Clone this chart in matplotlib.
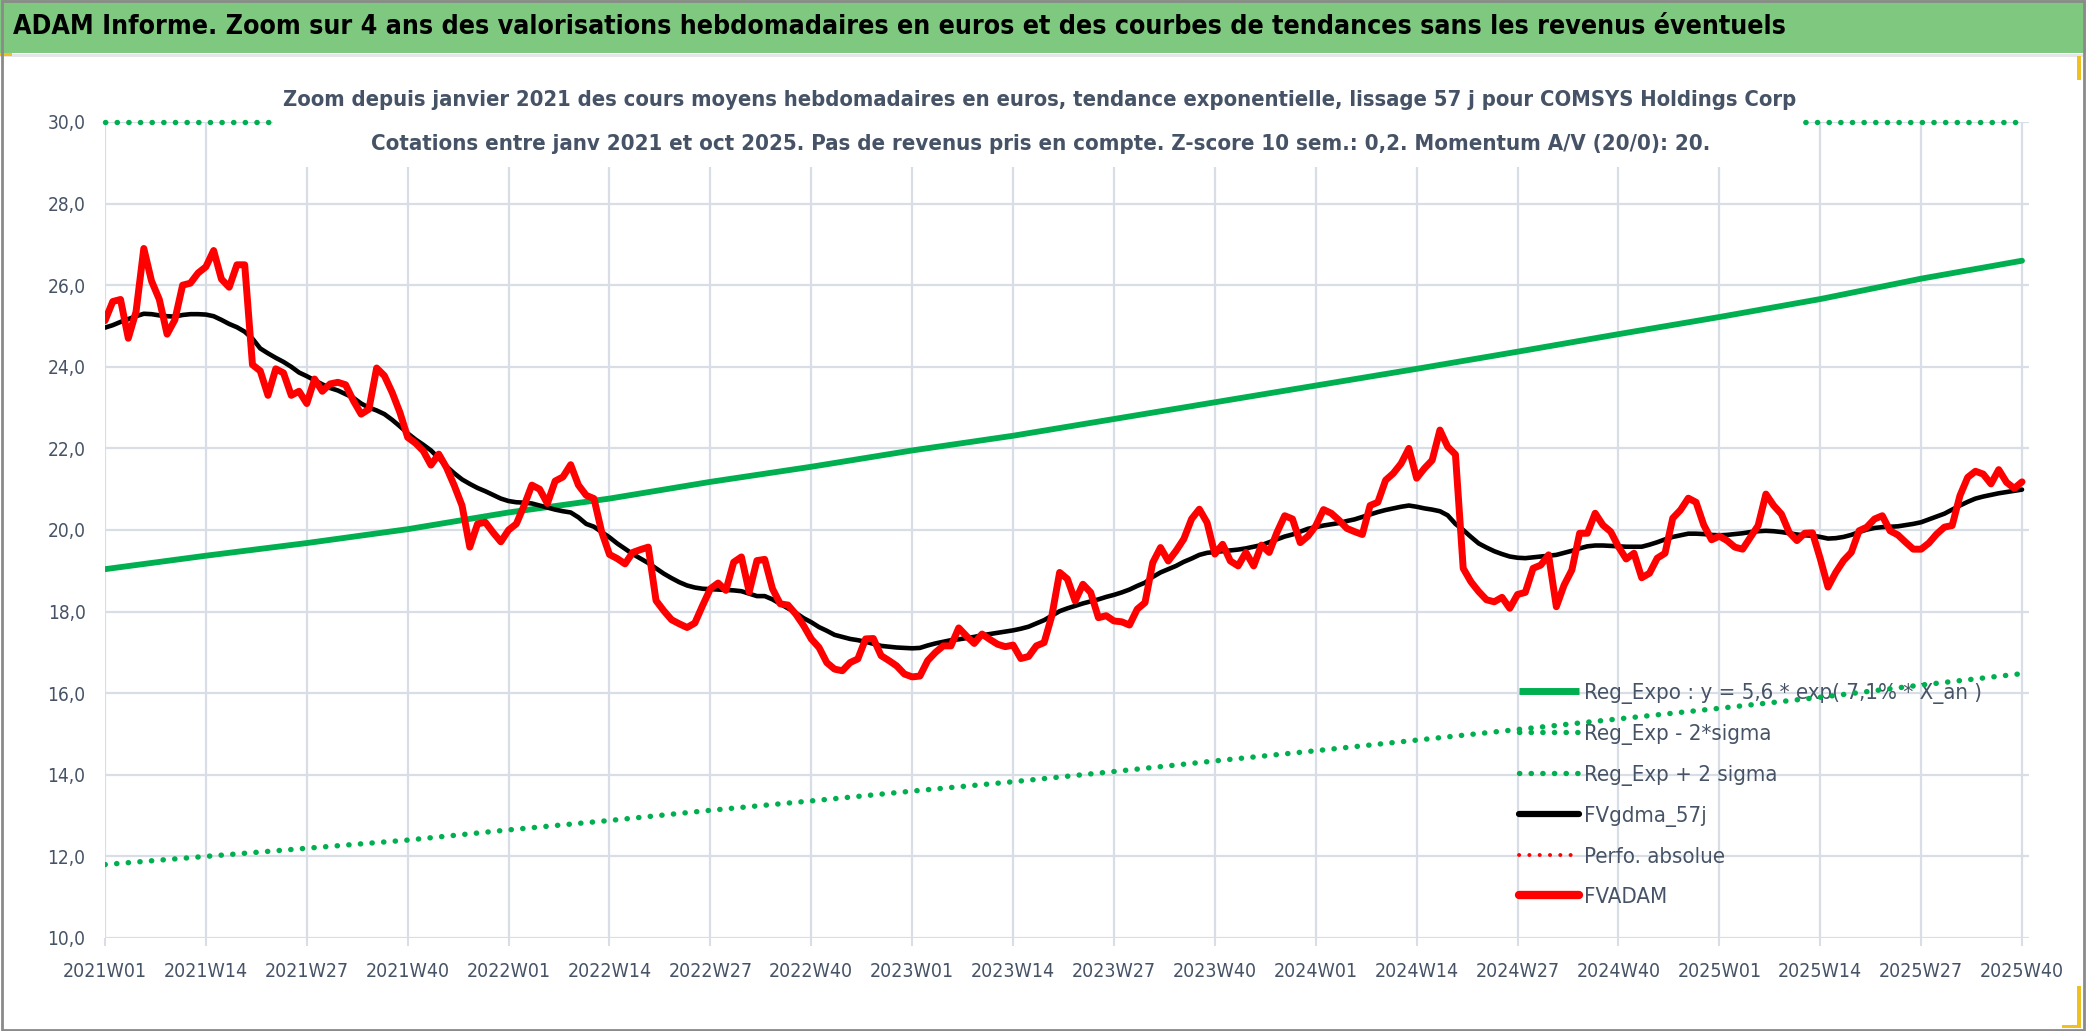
import matplotlib
matplotlib.use('Agg')
import matplotlib.pyplot as plt
from matplotlib.patches import Rectangle
from matplotlib.lines import Line2D
from matplotlib import font_manager

# choose the narrowest available family (reference uses a condensed Calibri-like face)
_fl = font_manager.fontManager.ttflist
_names = {f.name for f in _fl}
STRETCH = 'normal'
if 'Liberation Sans Narrow' in _names:
    FONT = ['Liberation Sans Narrow', 'DejaVu Sans']
elif 'DejaVu Sans Condensed' in _names:
    FONT = ['DejaVu Sans Condensed', 'DejaVu Sans']
elif any(f.name == 'DejaVu Sans' and str(f.stretch) in ('condensed', '87.5', 'semi-condensed')
         for f in _fl):
    FONT = ['DejaVu Sans']
    STRETCH = 'condensed'
else:
    FONT = ['Liberation Sans', 'DejaVu Sans']
plt.rcParams['font.family'] = FONT
plt.rcParams['font.stretch'] = STRETCH

# ---------------- data ----------------
weeks = []
for yr in range(2021, 2026):
    last = 40 if yr == 2025 else 52
    for w in range(1, last + 1):
        weeks.append(f"{yr}W{w:02d}")

tick_labels = weeks[::13]

fvadam = [
    25.13, 25.6, 25.65, 24.7, 25.35, 26.9, 26.1, 25.65, 24.8, 25.15,
    26.0, 26.05, 26.3, 26.45, 26.85, 26.15, 25.95, 26.5, 26.5, 24.05,
    23.9, 23.3, 23.95, 23.85, 23.3, 23.4, 23.1, 23.7, 23.4, 23.58,
    23.62, 23.56, 23.17, 22.84, 22.96, 23.97, 23.78, 23.37, 22.88, 22.27,
    22.13, 21.94, 21.59, 21.86, 21.53, 21.09, 20.6, 19.58, 20.15, 20.19,
    19.94, 19.71, 20.0, 20.15, 20.6, 21.1, 21.0, 20.65, 21.2, 21.3,
    21.6, 21.1, 20.85, 20.77, 19.95, 19.4, 19.3, 19.17, 19.45, 19.52,
    19.58, 18.27, 18.02, 17.8, 17.7, 17.61, 17.72, 18.15, 18.56, 18.7,
    18.52, 19.21, 19.34, 18.48, 19.25, 19.28, 18.56, 18.19, 18.16, 17.94,
    17.66, 17.33, 17.12, 16.75, 16.59, 16.55, 16.75, 16.84, 17.33, 17.34,
    16.92, 16.8, 16.67, 16.47, 16.4, 16.42, 16.8, 17.0, 17.16, 17.16,
    17.6, 17.4, 17.22, 17.45, 17.32, 17.2, 17.14, 17.18, 16.85, 16.9,
    17.16, 17.24, 17.9, 18.96, 18.8, 18.26, 18.67, 18.47, 17.85, 17.9,
    17.77, 17.75, 17.67, 18.06, 18.22, 19.2, 19.57, 19.24, 19.49, 19.78,
    20.27, 20.51, 20.18, 19.41, 19.65, 19.24, 19.12, 19.45, 19.12, 19.63,
    19.45, 19.94, 20.35, 20.27, 19.69, 19.85, 20.1, 20.5, 20.41, 20.24,
    20.04, 19.96, 19.89, 20.6, 20.68, 21.22, 21.39, 21.63, 22.0, 21.27,
    21.51, 21.71, 22.45, 22.04, 21.85, 19.06, 18.73, 18.49, 18.29, 18.24,
    18.35, 18.08, 18.42, 18.47, 19.06, 19.14, 19.39, 18.12, 18.65, 19.02,
    19.92, 19.92, 20.41, 20.12, 19.96, 19.59, 19.29, 19.43, 18.83, 18.94,
    19.31, 19.43, 20.29, 20.49, 20.78, 20.68, 20.12, 19.76, 19.85, 19.74,
    19.58, 19.53, 19.82, 20.11, 20.88, 20.6, 20.39, 19.94, 19.74, 19.92,
    19.93, 19.3, 18.6, 18.96, 19.25, 19.45, 19.98, 20.07, 20.27, 20.35,
    19.98, 19.88, 19.7, 19.53, 19.53, 19.68, 19.9, 20.07, 20.11, 20.84,
    21.29, 21.44, 21.37, 21.13, 21.48, 21.17, 21.02, 21.18,
]

fvgdma_57j = [
    24.96, 25.02, 25.10, 25.17, 25.24, 25.30, 25.29, 25.26, 25.24, 25.23,
    25.27, 25.29, 25.29, 25.28, 25.24, 25.15, 25.05, 24.97, 24.86, 24.69,
    24.45, 24.33, 24.22, 24.12, 24.00, 23.86, 23.77, 23.67, 23.57, 23.48,
    23.42, 23.33, 23.24, 23.10, 23.00, 22.93, 22.84, 22.70, 22.54, 22.37,
    22.22, 22.09, 21.95, 21.76, 21.56, 21.39, 21.24, 21.13, 21.03, 20.95,
    20.86, 20.77, 20.71, 20.68, 20.67, 20.65, 20.60, 20.55, 20.50, 20.46,
    20.43, 20.31, 20.15, 20.08, 19.95, 19.82, 19.67, 19.54, 19.41, 19.30,
    19.19, 19.06, 18.93, 18.82, 18.72, 18.64, 18.59, 18.56, 18.55, 18.54,
    18.53, 18.52, 18.50, 18.44, 18.38, 18.38, 18.30, 18.19, 18.08, 17.97,
    17.84, 17.74, 17.62, 17.53, 17.43, 17.38, 17.33, 17.30, 17.26, 17.21,
    17.16, 17.14, 17.12, 17.11, 17.10, 17.11, 17.17, 17.22, 17.26, 17.30,
    17.32, 17.35, 17.38, 17.42, 17.45, 17.48, 17.51, 17.54, 17.58, 17.63,
    17.71, 17.79, 17.90, 18.01, 18.08, 18.14, 18.20, 18.25, 18.30, 18.36,
    18.41, 18.47, 18.54, 18.63, 18.71, 18.85, 18.96, 19.04, 19.12, 19.22,
    19.30, 19.39, 19.44, 19.46, 19.48, 19.50, 19.52, 19.55, 19.59, 19.63,
    19.70, 19.77, 19.84, 19.89, 19.96, 20.03, 20.07, 20.11, 20.14, 20.17,
    20.22, 20.26, 20.32, 20.38, 20.44, 20.49, 20.53, 20.57, 20.60, 20.57,
    20.53, 20.50, 20.46, 20.36, 20.15, 20.00, 19.83, 19.67, 19.57, 19.48,
    19.41, 19.35, 19.32, 19.31, 19.33, 19.35, 19.37, 19.39, 19.44, 19.49,
    19.55, 19.60, 19.62, 19.62, 19.61, 19.60, 19.59, 19.59, 19.59, 19.64,
    19.70, 19.77, 19.83, 19.87, 19.91, 19.91, 19.90, 19.88, 19.87, 19.88,
    19.90, 19.92, 19.95, 19.97, 19.98, 19.97, 19.95, 19.92, 19.89, 19.87,
    19.86, 19.83, 19.79, 19.80, 19.83, 19.88, 19.95, 20.01, 20.05, 20.07,
    20.08, 20.09, 20.12, 20.15, 20.19, 20.26, 20.33, 20.40, 20.50, 20.60,
    20.69, 20.77, 20.82, 20.86, 20.90, 20.93, 20.96, 20.99,
]

# regression curves read at each labelled week
reg_expo = [19.04, 19.37, 19.68, 20.02, 20.43, 20.77, 21.18, 21.55, 21.95, 22.31,
            22.72, 23.13, 23.54, 23.95, 24.37, 24.80, 25.22, 25.66, 26.16, 26.60]
reg_minus = [11.80, 12.00, 12.20, 12.40, 12.65, 12.88, 13.13, 13.36, 13.60, 13.83,
             14.08, 14.34, 14.59, 14.85, 15.11, 15.37, 15.63, 15.90, 16.20, 16.48]
reg_plus = [30.0, 30.0, 30.0, 30.0, 30.0, 30.0, 30.0, 30.0, 30.0, 30.0,
            30.0, 30.0, 30.0, 30.0, 30.0, 30.0, 30.0, 30.0, 30.0, 30.0]

y_ticks = [10, 12, 14, 16, 18, 20, 22, 24, 26, 28, 30]

series_names = ["Reg_Expo : y = 5,6 * exp( 7,1% * X_an )", "Reg_Exp - 2*sigma",
                "Reg_Exp + 2 sigma", "FVgdma_57j", "Perfo. absolue", "FVADAM"]

main_title = ("ADAM Informe. Zoom sur 4 ans des valorisations hebdomadaires en euros "
              "et des courbes de tendances sans les revenus éventuels")
sub1 = ("Zoom depuis janvier 2021 des cours moyens hebdomadaires en euros, tendance "
        "exponentielle, lissage 57 j pour COMSYS Holdings Corp")
sub2 = ("Cotations entre janv 2021 et oct 2025. Pas de revenus pris en compte. "
        "Z-score 10 sem.: 0,2. Momentum A/V (20/0): 20.")

# ---------------- styling ----------------
W, H = 2086, 1031
GREEN = '#00B050'
RED = '#FF0000'
TXT = '#465366'
GRID = '#D9DEE6'


def fx(p):
    return p / W


def fy(p):
    return 1 - p / H


fig = plt.figure(figsize=(W / 100, H / 100), dpi=100)
fig.patch.set_facecolor('white')
renderer = fig.canvas.get_renderer()


def fitted(s, target_w, weight='normal', base=20.0):
    """font size giving the reference pixel width for string s"""
    t = fig.text(0, 0, s, fontsize=base, fontweight=weight)
    w = t.get_window_extent(renderer).width
    t.remove()
    return base * target_w / w


fs_title = min(fitted(main_title, 1770, 'bold'), 24)
fs_sub = min(fitted(sub1, 1514, 'bold'), 19)
fs_xt = min(fitted('2025W40', 84), 17)
fs_yt = min(fitted('28,0', 38), 17)
fs_leg = min(fitted(series_names[0], 396), 19)

ax = fig.add_axes([fx(105), fy(938), (2029 - 105) / W, (938 - 122) / H])
x_all = list(range(len(weeks)))
x_tick = [weeks.index(t) for t in tick_labels]

dot = (0, (0.05, 2.1))
ax.plot(x_tick, reg_expo, color=GREEN, lw=4.2, solid_capstyle='round', zorder=3)
ax.plot(x_tick, reg_minus, color=GREEN, lw=3.9, linestyle=dot,
        dash_capstyle='round', zorder=3)
ax.plot(x_tick, reg_plus, color=GREEN, lw=3.9, linestyle=dot,
        dash_capstyle='round', zorder=3, clip_on=False)
ax.plot(x_all, fvgdma_57j, color='black', lw=3.3, solid_joinstyle='round',
        solid_capstyle='round', zorder=4)
ax.plot(x_all, fvadam, color=RED, lw=5.0, solid_joinstyle='round',
        solid_capstyle='round', zorder=5)

ax.set_xlim(0, 247.9)
ax.set_ylim(10, 30)
ax.set_yticks(y_ticks)
ax.set_yticklabels([f"{v:.1f}".replace('.', ',') for v in y_ticks])
ax.set_xticks(x_tick)
ax.set_xticklabels(tick_labels)
ax.grid(True, color=GRID, lw=1.6, zorder=0)
ax.set_axisbelow(True)
for s in ax.spines.values():
    s.set_visible(False)
ax.tick_params(axis='y', length=0, pad=14, labelsize=fs_yt, labelcolor=TXT)
ax.tick_params(axis='x', length=5.8, width=1.5, color=GRID, pad=11.5,
               labelsize=fs_xt, labelcolor=TXT)

handles = [
    Line2D([], [], color=GREEN, lw=5, solid_capstyle='butt'),
    Line2D([], [], color=GREEN, lw=3.9, linestyle=(0, (0.05, 2.1)), dash_capstyle='round'),
    Line2D([], [], color=GREEN, lw=3.9, linestyle=(0, (0.05, 2.1)), dash_capstyle='round'),
    Line2D([], [], color='black', lw=4.5, solid_capstyle='round'),
    Line2D([], [], color=RED, lw=2.8, linestyle=(0, (0.05, 2.6)), dash_capstyle='round'),
    Line2D([], [], color=RED, lw=6, solid_capstyle='round'),
]
# row pitch of ~40 px in the reference
_t = fig.text(0, 0, 'Rg', fontsize=fs_leg)
_h = _t.get_window_extent(renderer).height
_t.remove()
fs_leg_px = fs_leg * 100 / 72
spacing = max((40 - _h) / fs_leg_px, 0.1)
leg = ax.legend(handles, series_names, loc='upper left',
                bbox_to_anchor=(fx(1519), fy(693 - _h / 2)), bbox_transform=fig.transFigure,
                frameon=False, fontsize=fs_leg, handlelength=60 / fs_leg_px,
                handletextpad=5 / fs_leg_px, labelspacing=spacing,
                borderpad=0, borderaxespad=0)
for t in leg.get_texts():
    t.set_color(TXT)
leg.set_zorder(2)

# title bar & decorations
fig.patches.append(Rectangle((0, fy(53)), 1, 53 / H, transform=fig.transFigure,
                             fc='#7EC87F', ec='none', zorder=1))
fig.patches.append(Rectangle((0, fy(57)), 1, 3 / H, transform=fig.transFigure,
                             fc='#E4E6EA', ec='none', zorder=1))
fig.patches.append(Rectangle((0, fy(56)), fx(12), 3 / H, transform=fig.transFigure,
                             fc='#F0C020', ec='none', zorder=2))
fig.patches.append(Rectangle((fx(2077), fy(80)), fx(4), 24 / H, transform=fig.transFigure,
                             fc='#F0C020', ec='none', zorder=2))
fig.patches.append(Rectangle((fx(2077), fy(1028)), fx(4), 42 / H, transform=fig.transFigure,
                             fc='#F0C020', ec='none', zorder=2))
fig.patches.append(Rectangle((fx(2062), fy(1028)), fx(19), 3 / H, transform=fig.transFigure,
                             fc='#F0C020', ec='none', zorder=2))
fig.patches.append(Rectangle((0.0008, 0.0012), 0.9984, 0.9976, transform=fig.transFigure,
                             fill=False, ec='#8A8A8A', lw=2, zorder=2))
# white title background over the plot area
fig.patches.append(Rectangle((fx(273), fy(167)), (1803 - 273) / W, (167 - 62) / H,
                             transform=fig.transFigure, fc='white', ec='none', zorder=1))

fig.text(fx(13), fy(27), main_title, ha='left', va='center', fontsize=fs_title,
         fontweight='bold', color='black', zorder=3)
fig.text(fx(1040), fy(100), sub1, ha='center', va='center', fontsize=fs_sub,
         fontweight='bold', color=TXT, zorder=3)
fig.text(fx(1041), fy(144), sub2, ha='center', va='center', fontsize=fs_sub * 1.01,
         fontweight='bold', color=TXT, zorder=3)

fig.savefig('out.png', dpi=100, facecolor='white')
